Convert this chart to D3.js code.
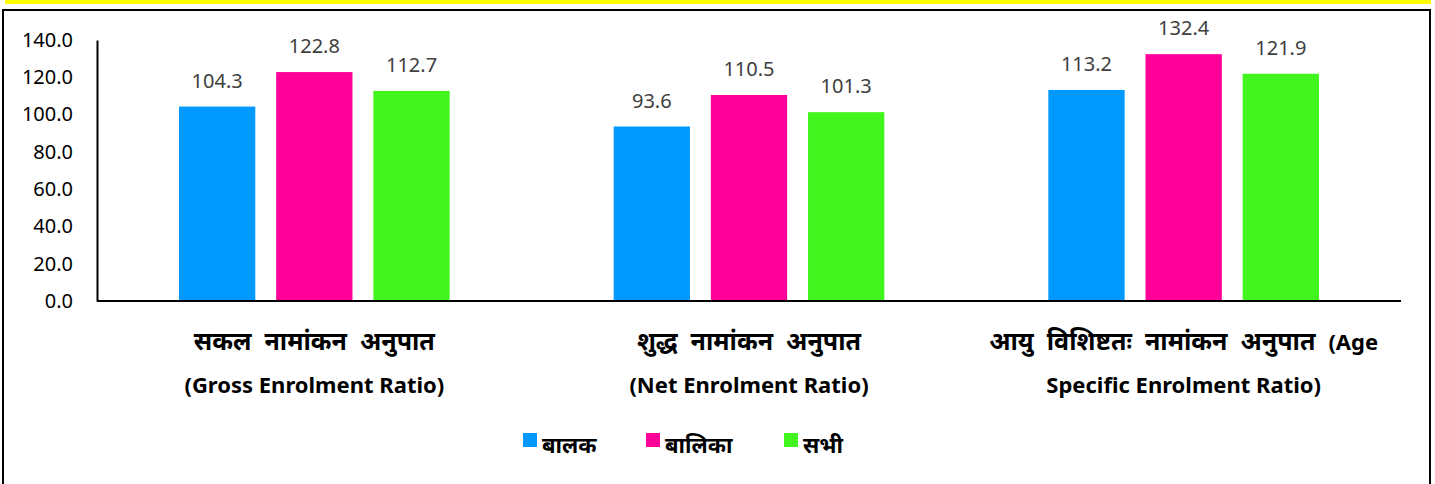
<!DOCTYPE html>
<html>
<head>
<meta charset="utf-8">
<script src="https://cdn.jsdelivr.net/npm/d3@7"></script>
<style>
  body { margin: 0; background: #fff; }
  svg { display: block; }
</style>
</head>
<body>
<svg id="chart"></svg>
<script>
// data
const categories = [
  ["सकल नामांकन अनुपात", "(Gross Enrolment Ratio)"],
  ["शुद्ध नामांकन अनुपात", "(Net Enrolment Ratio)"],
  ["आयु विशिष्टतः नामांकन अनुपात (Age", "Specific Enrolment Ratio)"]
];
const seriesNames = ["बालक", "बालिका", "सभी"];
const boys  = [104.3, 93.6, 113.2];
const girls = [122.8, 110.5, 132.4];
const total = [112.7, 101.3, 121.9];
const yTicks = [0, 20, 40, 60, 80, 100, 120, 140];

const colors = ["#0099FF", "#FF0099", "#43F51F"];
const font = "'Noto Sans', 'Noto Sans Devanagari', sans-serif";

const W = 1435, H = 484;
const margin = { top: 40, right: 34, bottom: 183, left: 97 };

const svg = d3.select("#chart").attr("width", W).attr("height", H);

// yellow band + frame
svg.append("rect").attr("x", 5).attr("y", 0).attr("width", 1426).attr("height", 4).attr("fill", "#FFFF00");
svg.append("rect").attr("x", 3).attr("y", 10).attr("width", 1427).attr("height", 480)
  .attr("fill", "none").attr("stroke", "#000").attr("stroke-width", 2);

const width = W - margin.left - margin.right;
const height = H - margin.top - margin.bottom;

const g = svg.append("g").attr("transform", `translate(${margin.left},${margin.top})`);

const x0 = d3.scaleBand().domain(d3.range(categories.length)).range([0, width]);
const x1 = d3.scaleBand().domain(d3.range(seriesNames.length)).range([82, x0.bandwidth() - 82]).paddingInner(0.215);
const y = d3.scaleLinear().domain([0, 140]).range([height, 0]);

const rows = categories.map((c, i) => [boys[i], girls[i], total[i]]);

// y axis
const yAxis = g.append("g").call(d3.axisLeft(y).tickValues(yTicks).tickFormat(d3.format(".1f")).tickSize(0).tickPadding(24));
yAxis.select(".domain").attr("stroke", "#000").attr("stroke-width", 2);
yAxis.selectAll("text").attr("font-family", font).attr("font-size", 20).attr("fill", "#000");

// bars
const groups = g.selectAll(".grp").data(rows).join("g")
  .attr("class", "grp")
  .attr("transform", (d, i) => `translate(${x0(i)},0)`);

groups.selectAll("rect").data(d => d).join("rect")
  .attr("x", (d, j) => x1(j))
  .attr("width", x1.bandwidth())
  .attr("y", d => y(d))
  .attr("height", d => height - y(d))
  .attr("fill", (d, j) => colors[j]);

groups.selectAll(".val").data(d => d).join("text")
  .attr("class", "val")
  .attr("x", (d, j) => x1(j) + x1.bandwidth() / 2)
  .attr("y", d => y(d) - 19)
  .attr("text-anchor", "middle")
  .attr("font-family", font).attr("font-size", 20).attr("fill", "#404040")
  .text(d => d.toFixed(1));

// x axis line
g.append("line").attr("x1", 0).attr("x2", width).attr("y1", height).attr("y2", height)
  .attr("stroke", "#000").attr("stroke-width", 2);

// category labels: Devanagari words drawn larger and wider spaced than Latin words
const isDeva = s => /[\u0900-\u097F]/.test(s);
function addLine(sel, line, yPos) {
  const t = sel.append("text")
    .attr("x", sel.datum().cx).attr("y", yPos)
    .attr("text-anchor", "middle")
    .attr("font-family", font).attr("font-weight", "bold").attr("fill", "#000");
  const words = line.split(" ");
  words.forEach((w, k) => {
    const last = k === words.length - 1;
    t.append("tspan")
      .attr("font-size", isDeva(w) ? 25 : 22)
      .text(w + (last ? "" : (isDeva(w) ? "\u00A0\u00A0" : " ")));
  });
}
const cats = g.selectAll(".cat").data(categories.map((c, i) => ({ lines: c, cx: x0(i) + x0.bandwidth() / 2 })))
  .join("g").attr("class", "cat");
cats.each(function(d) {
  const s = d3.select(this);
  addLine(s, d.lines[0], height + 49);
  addLine(s, d.lines[1], height + 92);
});

// legend
const legendX = [523, 646, 784];
const lg = svg.selectAll(".leg").data(seriesNames).join("g")
  .attr("class", "leg")
  .attr("transform", (d, i) => `translate(${legendX[i]},433)`);
lg.append("rect").attr("width", 14).attr("height", 14).attr("fill", (d, i) => colors[i]);
lg.append("text").attr("x", 19).attr("y", 20)
  .attr("font-family", font).attr("font-size", 22).attr("font-weight", "bold").attr("fill", "#000")
  .text(d => d);
</script>
</body>
</html>
